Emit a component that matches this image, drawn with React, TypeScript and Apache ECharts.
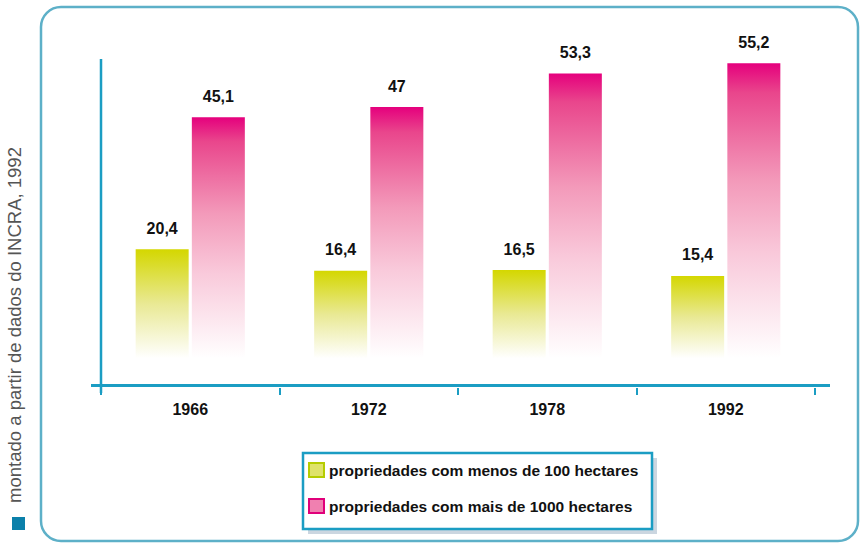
import React, { useEffect, useRef } from "react";
import * as echarts from "echarts";

const categories = ["1966", "1972", "1978", "1992"];
const menos100 = [20.4, 16.4, 16.5, 15.4];
const mais1000 = [45.1, 47, 53.3, 55.2];
const seriesNames = [
  "propriedades com menos de 100 hectares",
  "propriedades com mais de 1000 hectares",
];
const sourceText = "montado a partir de dados do INCRA, 1992";

const FONT = "'Liberation Sans', Arial, sans-serif";
const TEAL = "#1b9dc3";

const fmt = (p: any) => String(p.value).replace(".", ",");

export default function App() {
  const ref = useRef<HTMLDivElement>(null);
  useEffect(() => {
    if (!ref.current) return;
    const chart = echarts.init(ref.current, null, { renderer: "svg" });
    const labelStyle = {
      show: true,
      position: "top",
      distance: 13,
      fontFamily: FONT,
      fontWeight: "bold",
      fontSize: 16,
      color: "#111",
      formatter: fmt,
    };
    chart.setOption({
      animation: false,
      grid: { left: 101, right: 45, top: 59, bottom: 158 },
      xAxis: {
        type: "category",
        data: categories,
        offset: 3,
        axisLine: { show: false, onZero: false },
        axisTick: { show: true, length: 7, lineStyle: { color: TEAL, width: 2 } },
        axisLabel: { fontFamily: FONT, fontWeight: "bold", fontSize: 16, color: "#111", margin: 13 },
      },
      yAxis: {
        type: "value",
        min: -5,
        max: 56,
        axisLine: { show: false },
        axisTick: { show: false },
        axisLabel: { show: false },
        splitLine: { show: false },
      },
      legend: {
        orient: "vertical",
        left: 303,
        top: 457,
        padding: 5,
        z: 10,
        icon: "rect",
        itemWidth: 15,
        itemHeight: 14,
        itemGap: 20,
        textStyle: { fontFamily: FONT, fontWeight: "bold", fontSize: 15.5, color: "#111" },
        data: [
          { name: seriesNames[0], itemStyle: { color: "#dfe36a", borderColor: "#b5cc00", borderWidth: 2 } },
          { name: seriesNames[1], itemStyle: { color: "#f080b0", borderColor: "#e0007a", borderWidth: 2 } },
        ],
      },
      series: [
        {
          name: seriesNames[0],
          type: "bar",
          data: menos100,
          barWidth: 53,
          barGap: "6%",
          itemStyle: {
            color: new echarts.graphic.LinearGradient(0, 0, 0, 1, [
              { offset: 0, color: "#d4d700" },
              { offset: 0.5, color: "#e9e994" },
              { offset: 1, color: "#ffffff" },
            ]),
          },
          label: labelStyle,
        },
        {
          name: seriesNames[1],
          type: "bar",
          data: mais1000,
          barWidth: 53,
          barGap: "6%",
          itemStyle: {
            color: new echarts.graphic.LinearGradient(0, 0, 0, 1, [
              { offset: 0, color: "#e5007d" },
              { offset: 0.1, color: "#e9468c" },
              { offset: 0.4, color: "#f39aba" },
              { offset: 0.65, color: "#f9cadb" },
              { offset: 1, color: "#ffffff" },
            ]),
          },
          label: labelStyle,
        },
      ],
      graphic: [
        {
          type: "rect",
          z: 0,
          shape: { x: 41, y: 7, width: 817, height: 534, r: 20 },
          style: { fill: "none", stroke: "#5db0c8", lineWidth: 2.5 },
        },
        {
          type: "line",
          z: 5,
          shape: { x1: 101, y1: 59, x2: 101, y2: 393 },
          style: { stroke: TEAL, lineWidth: 2.5 },
        },
        {
          type: "line",
          z: 5,
          shape: { x1: 91, y1: 385.5, x2: 830, y2: 385.5 },
          style: { stroke: TEAL, lineWidth: 3 },
        },
        {
          type: "rect",
          z: 0,
          shape: { x: 308, y: 458, width: 349, height: 76 },
          style: { fill: "#cbd6e0" },
        },
        {
          type: "rect",
          z: 1,
          shape: { x: 303, y: 453, width: 349, height: 76 },
          style: { fill: "#ffffff", stroke: TEAL, lineWidth: 2.5 },
        },
        {
          type: "text",
          x: 14,
          y: 325,
          rotation: Math.PI / 2,
          style: {
            text: sourceText,
            fontFamily: FONT,
            fontSize: 18.5,
            fill: "#555",
            align: "center",
            verticalAlign: "middle",
          },
        },
        {
          type: "rect",
          shape: { x: 12, y: 517, width: 13, height: 13 },
          style: { fill: "#0b80aa" },
        },
      ],
    });
    return () => chart.dispose();
  }, []);
  return (
    <div
      ref={ref}
      style={{ position: "fixed", left: 0, top: 0, width: 860, height: 543, background: "#fff" }}
    />
  );
}
